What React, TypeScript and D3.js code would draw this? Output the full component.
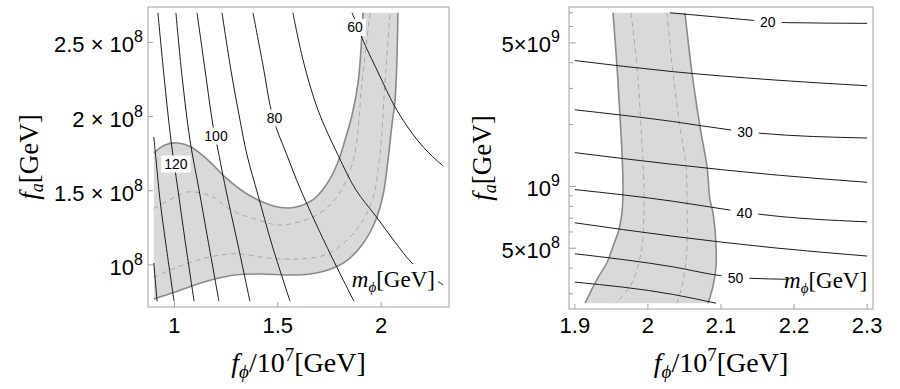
import React from "react";
import * as d3 from "d3";

type P = [number, number];

// ================= LEFT PANEL DATA (x: f_phi/1e7, y: f_a [GeV]) =================
const leftXRange: P = [0.9, 2.3];
const leftYRange: P = [0.755e8, 2.7e8];
const leftXTicks = [1, 1.5, 2];
const leftYTicks = [1e8, 1.5e8, 2e8, 2.5e8];

const leftBandInner: P[] = [
  [0.9, 1.755e8], [0.954, 1.809e8], [1.017, 1.822e8], [1.08, 1.795e8], [1.162, 1.707e8],
  [1.244, 1.593e8], [1.322, 1.505e8], [1.404, 1.438e8], [1.501, 1.39e8], [1.559, 1.384e8],
  [1.607, 1.397e8], [1.68, 1.451e8], [1.743, 1.559e8], [1.791, 1.694e8], [1.825, 1.842e8],
  [1.859, 2.011e8], [1.888, 2.226e8], [1.902, 2.449e8], [1.912, 2.7e8],
];
const leftBandOuter: P[] = [
  [0.9, 0.77e8], [1.003, 0.817e8], [1.099, 0.865e8], [1.196, 0.905e8], [1.293, 0.932e8],
  [1.414, 0.939e8], [1.559, 0.932e8], [1.656, 0.939e8], [1.743, 0.966e8], [1.825, 1.02e8],
  [1.907, 1.134e8], [1.97, 1.289e8], [2.009, 1.471e8], [2.033, 1.707e8], [2.052, 1.943e8],
  [2.067, 2.112e8], [2.076, 2.381e8], [2.081, 2.7e8],
];
const leftDashUpper: P[] = [
  [0.9, 1.38e8], [1.003, 1.458e8], [1.065, 1.492e8], [1.128, 1.485e8], [1.196, 1.451e8],
  [1.273, 1.37e8], [1.404, 1.303e8], [1.501, 1.269e8], [1.583, 1.283e8], [1.68, 1.33e8],
  [1.762, 1.417e8], [1.825, 1.552e8], [1.873, 1.755e8], [1.907, 2.226e8], [1.946, 2.7e8],
];
const leftDashLower: P[] = [
  [0.9, 0.915e8], [1.003, 0.979e8], [1.114, 1.033e8], [1.225, 1.067e8], [1.322, 1.074e8],
  [1.414, 1.053e8], [1.51, 1.04e8], [1.607, 1.04e8], [1.728, 1.067e8], [1.825, 1.155e8],
  [1.907, 1.289e8], [1.96, 1.451e8], [1.994, 1.741e8], [2.018, 2.226e8], [2.043, 2.7e8],
];

const leftC140: P[] = [[0.9, 1.013e8], [0.916, 0.755e8]];
const leftC130: P[] = [[0.9, 1.862e8], [0.911, 1.707e8], [0.93, 1.438e8], [0.959, 1.134e8], [0.998, 0.755e8]];
const leftC120: P[] = [[0.92, 2.7e8], [0.949, 2.28e8], [0.983, 1.842e8], [1.017, 1.505e8], [1.051, 1.168e8], [1.095, 0.755e8]];
const leftC110: P[] = [[1.007, 2.7e8], [1.036, 2.28e8], [1.075, 1.842e8], [1.119, 1.505e8], [1.162, 1.168e8], [1.215, 0.755e8]];
const leftC100: P[] = [[1.109, 2.7e8], [1.148, 2.314e8], [1.186, 1.943e8], [1.201, 1.842e8], [1.249, 1.505e8], [1.302, 1.168e8], [1.365, 0.755e8]];
const leftC90: P[] = [[1.23, 2.7e8], [1.273, 2.314e8], [1.317, 1.976e8], [1.351, 1.741e8], [1.404, 1.471e8], [1.472, 1.134e8], [1.559, 0.755e8]];
const leftC80: P[] = [[1.38, 2.7e8], [1.428, 2.348e8], [1.477, 1.99e8], [1.544, 1.741e8], [1.607, 1.518e8], [1.733, 1.134e8], [1.868, 0.755e8]];
const leftC70: P[] = [[1.573, 2.7e8], [1.622, 2.381e8], [1.694, 2.045e8], [1.791, 1.741e8], [1.878, 1.505e8], [1.97, 1.336e8], [2.067, 1.154e8], [2.149, 1.013e8], [2.236, 0.925e8], [2.3, 0.865e8]];
const leftC60: P[] = [[1.859, 2.7e8], [1.883, 2.618e8], [1.907, 2.53e8], [1.984, 2.301e8], [2.067, 2.065e8], [2.149, 1.889e8], [2.226, 1.761e8], [2.3, 1.667e8]];
const leftContours: P[][] = [leftC140, leftC130, leftC120, leftC110, leftC100, leftC90, leftC80, leftC70, leftC60];

const leftLabelTexts = ["120", "100", "80", "60"];
const leftLabelPos: P[] = [[1.007, 1.68e8], [1.201, 1.869e8], [1.484, 1.99e8], [1.873, 2.601e8]];
const leftUnitEnd: P = [2.26, 0.898e8];

// ================= RIGHT PANEL DATA =================
const rightXRange: P = [1.9, 2.3];
const rightYRange: P = [2.7e8, 7e9];
const rightXTicks = [1.9, 2.0, 2.1, 2.2, 2.3];
const rightYMajor: { v: number; e: number }[] = [{ v: 5e8, e: 8 }, { v: 1e9, e: 9 }, { v: 5e9, e: 9 }];
const rightYMinor = [3e8, 4e8, 6e8, 7e8, 8e8, 9e8, 2e9, 3e9, 4e9, 6e9, 7e9];

const rightBandLeft: P[] = [
  [1.9522, 7.0e9], [1.9577, 3.82e9], [1.9618, 2.18e9], [1.9645, 1.46e9], [1.9659, 9.98e8],
  [1.9645, 7.46e8], [1.9604, 6.17e8], [1.9522, 5.1e8], [1.944, 4.26e8], [1.9303, 3.53e8], [1.9139, 2.7e8],
];
const rightBandRight: P[] = [
  [2.0507, 7.0e9], [2.0603, 3.57e9], [2.0713, 1.95e9], [2.0808, 1.25e9], [2.0849, 8.63e8],
  [2.089, 7.46e8], [2.0932, 5.1e8], [2.0932, 4.08e8], [2.089, 3.26e8], [2.0822, 2.7e8],
];
const rightDashLeft: P[] = [
  [1.9768, 7.0e9], [1.9851, 3.82e9], [1.9905, 1.95e9], [1.9946, 9.98e8], [1.9946, 7.46e8],
  [1.9919, 5.1e8], [1.9851, 3.94e8], [1.9755, 3.26e8], [1.9563, 2.7e8],
];
const rightDashRight: P[] = [
  [2.0261, 7.0e9], [2.0343, 3.57e9], [2.0439, 1.95e9], [2.0521, 1.25e9], [2.0535, 8.63e8],
  [2.0535, 5.1e8], [2.0507, 3.94e8], [2.0466, 3.26e8], [2.0398, 2.7e8],
];

const rightC20: P[] = [[2.03, 7.0e9], [2.09, 6.7e9], [2.149, 6.41e9], [2.19, 6.27e9], [2.3, 6.22e9]];
const rightC25: P[] = [[1.9, 4.1e9], [2.034, 3.62e9], [2.171, 3.3e9], [2.3, 3.09e9]];
const rightC30: P[] = [[1.9, 2.36e9], [2.034, 2.07e9], [2.116, 1.877e9], [2.153, 1.815e9], [2.3, 1.72e9]];
const rightC35: P[] = [[1.9, 1.46e9], [2.034, 1.28e9], [2.171, 1.14e9], [2.3, 1.047e9]];
const rightC40: P[] = [[1.9, 9.65e8], [2.034, 8.47e8], [2.112, 7.67e8], [2.15, 7.34e8], [2.3, 6.72e8]];
const rightC45: P[] = [[1.9, 6.65e8], [2.034, 5.72e8], [2.171, 5.03e8], [2.3, 4.58e8]];
const rightC50: P[] = [[1.9, 4.7e8], [2.034, 4.06e8], [2.103, 3.66e8], [2.14, 3.57e8], [2.19, 3.53e8], [2.3, 3.47e8]];
const rightC55: P[] = [[1.9, 3.42e8], [2.034, 2.98e8], [2.0932, 2.7e8]];
const rightContours: P[][] = [rightC20, rightC25, rightC30, rightC35, rightC40, rightC45, rightC50, rightC55];

const rightLabelTexts = ["20", "30", "40", "50"];
const rightLabelPos: P[] = [[2.164, 6.3e9], [2.1328, 1.84e9], [2.132, 7.46e8], [2.1198, 3.58e8]];
const rightUnitEnd: P = [2.3, 3.46e8];

// ================= HELPERS =================
const SANS = "'Liberation Sans', Arial, Helvetica, sans-serif";
const SERIF = "'Liberation Serif', 'Times New Roman', serif";

const pad = (r: P, f = 0.02): P => {
  const d = (r[1] - r[0]) * f;
  return [r[0] - d, r[1] + d];
};
const padLog = (r: P, f = 0.02): P => {
  const a = Math.log10(r[0]);
  const b = Math.log10(r[1]);
  const d = (b - a) * f;
  return [10 ** (a - d), 10 ** (b + d)];
};

type Frame = { x0: number; x1: number; y0: number; y1: number };
const LF: Frame = { x0: 148, x1: 449, y0: 7, y1: 307 };
const RF: Frame = { x0: 569, x1: 873, y0: 7, y1: 309 };

const xL = d3.scaleLinear().domain(pad(leftXRange)).range([LF.x0, LF.x1]);
const yL = d3.scaleLinear().domain(pad(leftYRange)).range([LF.y1, LF.y0]);
const xR = d3.scaleLinear().domain(pad(rightXRange)).range([RF.x0, RF.x1]);
const yR = d3.scaleLog().domain(padLog(rightYRange)).range([RF.y1, RF.y0]);

type Sc = (v: number) => number;
const mkPath = (pts: P[], xs: Sc, ys: Sc) =>
  d3
    .line<P>()
    .x((d) => xs(d[0]))
    .y((d) => ys(d[1]))
    .curve(d3.curveCatmullRom.alpha(0.5))(pts) || "";

const bandPath = (a: P[], b: P[], xs: Sc, ys: Sc) =>
  mkPath(a, xs, ys) + mkPath([...b].reverse(), xs, ys).replace(/^M/, "L") + "Z";

const fmt = (v: number) => d3.format("~g")(v);

const BAND_FILL = "#d9d9d9";
const BAND_EDGE = "#8a8a8a";
const DASH = "#a9a9a9";
const LINE = "#1c1c1c";
const FRAME = "#a0a0a0";
const TICK_FS = 22;

function Band(props: { e1: P[]; e2: P[]; d1: P[]; d2: P[]; xs: Sc; ys: Sc }) {
  const { e1, e2, d1, d2, xs, ys } = props;
  return (
    <g>
      <path d={bandPath(e1, e2, xs, ys)} fill={BAND_FILL} stroke="none" />
      <path d={mkPath(d1, xs, ys)} fill="none" stroke={DASH} strokeWidth={1} strokeDasharray="5,4" />
      <path d={mkPath(d2, xs, ys)} fill="none" stroke={DASH} strokeWidth={1} strokeDasharray="5,4" />
      <path d={mkPath(e1, xs, ys)} fill="none" stroke={BAND_EDGE} strokeWidth={1.6} />
      <path d={mkPath(e2, xs, ys)} fill="none" stroke={BAND_EDGE} strokeWidth={1.6} />
    </g>
  );
}

function NumLabel(props: { text: string; x: number; y: number; padX: number }) {
  const { text, x, y, padX } = props;
  const w = text.length * 7.8 + 2 * padX;
  return (
    <g>
      <rect x={x - w / 2} y={y - 8.5} width={w} height={17} fill="#fff" />
      <text x={x} y={y + 5} textAnchor="middle" fontFamily={SANS} fontSize={14} fill="#000">
        {text}
      </text>
    </g>
  );
}

function UnitLabel(props: { x: number; y: number }) {
  const { x, y } = props;
  return (
    <g>
      <rect x={x - 80} y={y - 23} width={83} height={29} fill="#fff" />
      <text x={x} y={y} textAnchor="end" fontFamily={SERIF} fontSize={23} fill="#000">
        <tspan fontStyle="italic">m</tspan>
        <tspan fontStyle="italic" fontSize={15} dy={5}>ϕ</tspan>
        <tspan dy={-5}>[GeV]</tspan>
      </text>
    </g>
  );
}

function SciTick(props: { x: number; y: number; v: number; e: number; spaced: boolean }) {
  const { x, y, v, e, spaced } = props;
  const m = v / 10 ** e;
  const mant = Math.abs(m - 1) < 1e-9 ? "" : spaced ? `${fmt(m)} × ` : `${fmt(m)}×`;
  return (
    <text x={x} y={y} textAnchor="end" fontFamily={SANS} fontSize={TICK_FS} fill="#000">
      {mant}10
      <tspan dy={-10} fontSize={16}>{e}</tspan>
    </text>
  );
}

function XLabel(props: { x: number; y: number }) {
  return (
    <text x={props.x} y={props.y} textAnchor="middle" fontFamily={SERIF} fontSize={28} fill="#000">
      <tspan fontStyle="italic">f</tspan>
      <tspan fontStyle="italic" fontSize={19} dy={6}>ϕ</tspan>
      <tspan dy={-6}>/10</tspan>
      <tspan fontSize={19} dy={-11}>7</tspan>
      <tspan dy={11}>[GeV]</tspan>
    </text>
  );
}

function YLabel(props: { x: number; y: number }) {
  return (
    <text
      transform={`translate(${props.x},${props.y}) rotate(-90)`}
      textAnchor="middle"
      fontFamily={SERIF}
      fontSize={27}
      fill="#000"
    >
      <tspan fontStyle="italic">f</tspan>
      <tspan fontStyle="italic" fontSize={18} dy={5}>a</tspan>
      <tspan dy={-5}>[GeV]</tspan>
    </text>
  );
}

export default function App() {
  return (
    <svg
      width={900}
      height={389}
      viewBox="0 0 900 389"
      style={{ position: "absolute", left: 0, top: 0, background: "#fff" }}
    >
      <defs>
        <clipPath id="clipL">
          <rect x={LF.x0} y={LF.y0} width={LF.x1 - LF.x0} height={LF.y1 - LF.y0} />
        </clipPath>
        <clipPath id="clipR">
          <rect x={RF.x0} y={RF.y0} width={RF.x1 - RF.x0} height={RF.y1 - RF.y0} />
        </clipPath>
      </defs>

      {/* ---------------- LEFT PANEL ---------------- */}
      <g clipPath="url(#clipL)">
        <Band e1={leftBandInner} e2={leftBandOuter} d1={leftDashUpper} d2={leftDashLower} xs={xL} ys={yL} />
        {leftContours.map((c, i) => (
          <path key={i} d={mkPath(c, xL, yL)} fill="none" stroke={LINE} strokeWidth={1} />
        ))}
        {leftLabelTexts.map((t, i) => (
          <NumLabel key={t} text={t} x={xL(leftLabelPos[i][0])} y={yL(leftLabelPos[i][1])} padX={3} />
        ))}
        <UnitLabel x={xL(leftUnitEnd[0])} y={yL(leftUnitEnd[1]) + 7} />
      </g>
      <rect x={LF.x0} y={LF.y0} width={LF.x1 - LF.x0} height={LF.y1 - LF.y0} fill="none" stroke={FRAME} strokeWidth={1} />
      {leftXTicks.map((t) => (
        <g key={t}>
          <line x1={xL(t)} x2={xL(t)} y1={LF.y1} y2={LF.y1 - 5} stroke={FRAME} />
          <text x={xL(t)} y={333} textAnchor="middle" fontFamily={SANS} fontSize={TICK_FS} fill="#000">
            {fmt(t)}
          </text>
        </g>
      ))}
      {leftYTicks.map((t) => (
        <g key={t}>
          <line x1={LF.x0} x2={LF.x0 + 5} y1={yL(t)} y2={yL(t)} stroke={FRAME} />
          <SciTick x={143} y={yL(t) + 10} v={t} e={8} spaced={true} />
        </g>
      ))}
      <XLabel x={(LF.x0 + LF.x1) / 2} y={372} />
      <YLabel x={38} y={157} />

      {/* ---------------- RIGHT PANEL ---------------- */}
      <g clipPath="url(#clipR)">
        <Band e1={rightBandLeft} e2={rightBandRight} d1={rightDashLeft} d2={rightDashRight} xs={xR} ys={yR} />
        {rightContours.map((c, i) => (
          <path
            key={i}
            d={d3
              .line<P>()
              .x((d) => xR(d[0]))
              .y((d) => yR(d[1]))
              .curve(d3.curveMonotoneX)(c) || ""}
            fill="none"
            stroke={LINE}
            strokeWidth={1}
          />
        ))}
        {rightLabelTexts.map((t, i) => (
          <NumLabel key={t} text={t} x={xR(rightLabelPos[i][0])} y={yR(rightLabelPos[i][1])} padX={6} />
        ))}
        <UnitLabel x={xR(rightUnitEnd[0])} y={yR(rightUnitEnd[1]) + 7} />
      </g>
      <rect x={RF.x0} y={RF.y0} width={RF.x1 - RF.x0} height={RF.y1 - RF.y0} fill="none" stroke={FRAME} strokeWidth={1} />
      {rightXTicks.map((t) => (
        <g key={t}>
          <line x1={xR(t)} x2={xR(t)} y1={RF.y1} y2={RF.y1 - 5} stroke={FRAME} />
          <text x={xR(t)} y={333} textAnchor="middle" fontFamily={SANS} fontSize={TICK_FS} fill="#000">
            {fmt(t)}
          </text>
        </g>
      ))}
      {rightYMinor.map((t) => (
        <line key={t} x1={RF.x0} x2={RF.x0 + 4} y1={yR(t)} y2={yR(t)} stroke={FRAME} />
      ))}
      {rightYMajor.map((t) => (
        <g key={t.v}>
          <line x1={RF.x0} x2={RF.x0 + 7} y1={yR(t.v)} y2={yR(t.v)} stroke={FRAME} />
          <SciTick x={560} y={yR(t.v) + 9.5} v={t.v} e={t.e} spaced={false} />
        </g>
      ))}
      <XLabel x={(RF.x0 + RF.x1) / 2} y={372} />
      <YLabel x={491} y={158} />
    </svg>
  );
}
